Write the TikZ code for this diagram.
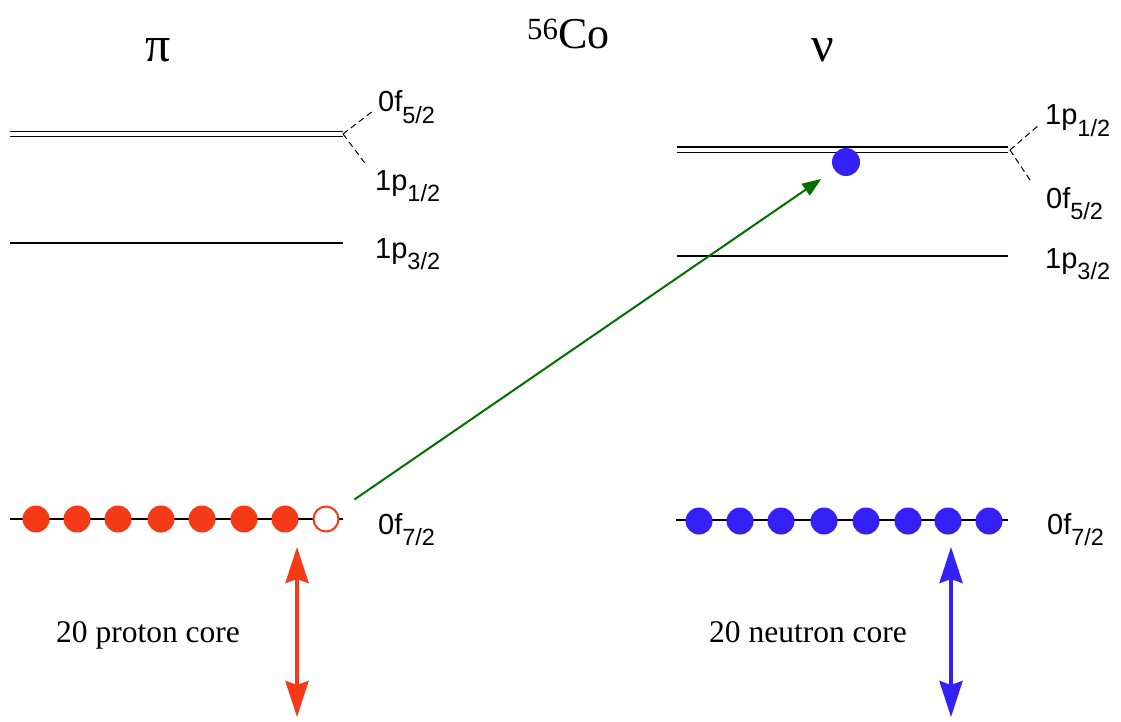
\documentclass[tikz,border=0pt]{standalone}
\usepackage{fontspec}
\setmainfont{Liberation Serif}
\newfontfamily\sansf{Liberation Sans}
\usetikzlibrary{arrows.meta}
\definecolor{pred}{RGB}{245,58,23}
\definecolor{nblue}{RGB}{53,32,245}
\definecolor{tgreen}{RGB}{0,112,0}
\newcommand{\orb}[2]{{\sansf\fontsize{29}{29}\selectfont #1\raisebox{-11.5pt}{\fontsize{23.5}{23.5}\selectfont #2}}}
\begin{document}
\begin{tikzpicture}[x=1pt,y=-1pt,
 level/.style={line width=1.1pt},
 split/.style={line width=1pt, dash pattern=on 6pt off 4pt},
 orblabel/.style={anchor=base west, inner sep=0pt},
 proton/.style={circle, fill=pred, minimum size=27pt, inner sep=0pt, outer sep=0pt},
 hole/.style={circle, draw=pred, line width=2pt, fill=white, minimum size=25pt, inner sep=0pt, outer sep=0pt},
 neutron/.style={circle, fill=nblue, minimum size=27pt, inner sep=0pt, outer sep=0pt},
 corearrow/.style={line width=4pt, {Stealth[length=36pt,width=23pt,inset=4pt]}-{Stealth[length=36pt,width=23pt,inset=4pt]}},
 corelabel/.style={anchor=base west, inner sep=0pt, font=\fontsize{31.5}{31.5}\selectfont},
 title/.style={inner sep=0pt, font=\fontsize{50}{50}\selectfont},
]
\useasboundingbox (0,0) rectangle (1121,722);
% titles
\node[title] (pi) at (158,50) {π};
\node[title] (nu) at (823,50) {ν};
\node[anchor=base west, inner sep=0pt, font=\fontsize{44}{44}\selectfont] (co) at (527,49) {\textsuperscript{56}Co};
% left levels
\coordinate (lsplit) at (343,134);
\coordinate (lup) at (373,111);
\coordinate (ldn) at (367,166);
\draw[level] (10,131.5) -- (343,131.5);
\draw[level] (10,136.5) -- (343,136.5);
\draw[split] (lsplit) -- (lup);
\draw[split] (lsplit) -- (ldn);
\draw[level] (10,243) -- (343,243);
\draw[level] (10,519) -- (343,519);
\node[orblabel] (l0f52) at (378,112) {\orb{0f}{5/2}};
\node[orblabel] (l1p12) at (375,190) {\orb{1p}{1/2}};
\node[orblabel] (l1p32) at (375,258) {\orb{1p}{3/2}};
\node[orblabel] (l0f72) at (378,534) {\orb{0f}{7/2}};
% right levels
\coordinate (rsplit) at (1010,150);
\coordinate (rup) at (1040,124);
\coordinate (rdn) at (1032,183);
\draw[level] (677,147) -- (1008,147);
\draw[level] (677,152.5) -- (1008,152.5);
\draw[split] (rsplit) -- (rup);
\draw[split] (rsplit) -- (rdn);
\draw[level] (677,256) -- (1008,256);
\draw[level] (676,520) -- (1008,520);
\node[orblabel] (r1p12) at (1045,125) {\orb{1p}{1/2}};
\node[orblabel] (r0f52) at (1046,208) {\orb{0f}{5/2}};
\node[orblabel] (r1p32) at (1045,268) {\orb{1p}{3/2}};
\node[orblabel] (r0f72) at (1047,534) {\orb{0f}{7/2}};
% protons
\node[proton] (p1) at (36,519) {};
\node[proton] (p2) at (77,519) {};
\node[proton] (p3) at (118,519) {};
\node[proton] (p4) at (161,519) {};
\node[proton] (p5) at (202,519) {};
\node[proton] (p6) at (244,519) {};
\node[proton] (p7) at (285,519) {};
\node[hole] (h8) at (326,519) {};
% neutrons
\node[neutron] (n1) at (699,521) {};
\node[neutron] (n2) at (740,521) {};
\node[neutron] (n3) at (781,521) {};
\node[neutron] (n4) at (824,521) {};
\node[neutron] (n5) at (866,521) {};
\node[neutron] (n6) at (908,521) {};
\node[neutron] (n7) at (948,521) {};
\node[neutron] (n8) at (989,521) {};
\node[neutron, minimum size=28pt] (pb) at (846,162) {};
% transition
\draw[tgreen, line width=2pt, -{Triangle[length=19pt,width=14pt]}, shorten <=22pt, shorten >=16pt] (h8) -- (pb);
% cores
\coordinate (ptop) at (297,547);
\coordinate (pbot) at (297,717);
\coordinate (ntop) at (951,547);
\coordinate (nbot) at (951,717);
\draw[corearrow, pred] (ptop) -- (pbot);
\draw[corearrow, nblue] (ntop) -- (nbot);
\node[corelabel] (pcore) at (56,642) {20 proton core};
\node[corelabel] (ncore) at (709,642) {20 neutron core};
\end{tikzpicture}
\end{document}
